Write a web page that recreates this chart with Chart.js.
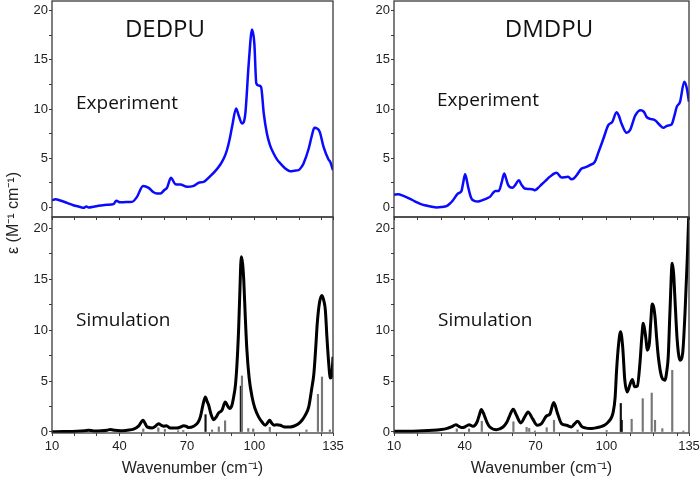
<!DOCTYPE html>
<html>
<head>
<meta charset="utf-8">
<script src="https://cdn.jsdelivr.net/npm/chart.js@4.4.1/dist/chart.umd.min.js"></script>
<style>
  body { margin: 0; background: #fff; width: 700px; height: 480px; overflow: hidden; position: relative; }
  canvas { position: absolute; }
  .lbl { position: absolute; font-family: "Open Sans", sans-serif; color: #111; line-height: 1; white-space: nowrap; }
  .ytitle { position: absolute; left: 12px; top: 213px; font-family: "Liberation Sans", Arial, sans-serif; font-size: 16px; color: #222;
            white-space: nowrap; transform: translate(-50%, -50%) rotate(-90deg); }
</style>
</head>
<body>
<canvas id="expLeft" width="347" height="232" style="left:0;top:0"></canvas>
<canvas id="expRight" width="350" height="232" style="left:350px;top:0"></canvas>
<canvas id="simLeft" width="347" height="275" style="left:0;top:205px"></canvas>
<canvas id="simRight" width="350" height="275" style="left:350px;top:205px"></canvas>

<div class="lbl" style="left:65px;top:16px;width:200px;text-align:center;font-size:24px">DEDPU</div>
<div class="lbl" style="left:449px;top:16px;width:200px;text-align:center;font-size:24px">DMDPU</div>
<div class="lbl" style="left:76px;top:93px;font-size:19px">Experiment</div>
<div class="lbl" style="left:437px;top:90px;font-size:19px">Experiment</div>
<div class="lbl" style="left:76px;top:310px;font-size:19px">Simulation</div>
<div class="lbl" style="left:438px;top:310px;font-size:19px">Simulation</div>
<div class="ytitle">ε (M⁻¹ cm⁻¹)</div>

<script>
// axis ticks
const xTickValues = [10, 20, 30, 40, 50, 60, 70, 80, 90, 100, 110, 120, 130, 135];
const xTickLabels = [10, 40, 70, 100, 135];
const yTickValues = [0, 2.5, 5, 7.5, 10, 12.5, 15, 17.5, 20];
const yTickLabels = [0, 5, 10, 15, 20];

// DEDPU experiment
const dedpuExpX = [10, 11.5, 14, 16.7, 19.5, 22.6, 24, 25.3, 26.3, 28.5, 31.5, 34.5, 37.4, 38.6, 40.4, 43, 45.6, 47.8, 50.5, 53,
  55, 56.7, 58.2, 60, 61.2, 62.9, 64.9, 67.1, 70.1, 73, 75.5, 77.5, 80.4, 82.7, 84.9, 86.5, 87.8, 89, 90.1, 91.9,
  93, 94.5, 96, 97.5, 99, 100, 100.9, 101.9, 103, 104.2, 105.6, 107, 108.6, 110, 111.6, 113.5, 116, 118, 119.7, 121,
  121.9, 124.2, 125.5, 126.7, 128, 129.1, 130.8, 133, 133.8, 135];
const dedpuExpY = [0.71, 0.8, 0.65, 0.44, 0.2, 0.02, -0.07, 0.07, -0.03, 0.05, 0.17, 0.25, 0.31, 0.65, 0.5, 0.52, 0.54, 1.05, 2.17, 1.97,
  1.55, 1.39, 1.39, 1.75, 2.0, 2.99, 2.34, 2.3, 2.07, 2.17, 2.51, 2.58, 3.16, 3.7, 4.35, 5.0, 5.8, 6.9, 8.18, 10.05,
  9.37, 8.52, 9.54, 14.6, 18.1, 16.7, 12.6, 12.4, 12.26, 9.54, 7.5, 6.3, 5.47, 4.9, 4.45, 4.0, 3.67, 3.72, 3.77, 4.1,
  4.45, 5.98, 7.2, 8.08, 8.0, 7.67, 6.15, 4.86, 4.6, 3.77];

// DMDPU experiment
const dmdpuExpX = [10, 11.7, 14, 16.6, 18.8, 20.9, 23, 25.1, 28.2, 30.5, 32.2, 33.6, 35, 37.1, 38.6, 39.4, 40.1, 40.8, 41.4, 42.8,
  44, 45.6, 47.5, 49.2, 50.6, 53, 54.4, 55.6, 56.7, 57.5, 58.4, 60.1, 61.5, 62.9, 64, 65.4, 67.3, 69, 69.7, 71,
  72.5, 74.3, 76, 78.9, 81, 82.5, 83.8, 85.2, 86.3, 87.4, 89.5, 91, 93, 95.1, 96.5, 98, 98.9, 100.8, 102.5, 104.3,
  105.3, 106.4, 108.6, 110, 112.3, 114.5, 115.9, 117, 118.5, 120.6, 122.5, 124.1, 125.8, 127.6, 128.8, 129.8, 131.2, 133, 134, 135];
const dmdpuExpY = [1.26, 1.32, 1.15, 0.88, 0.6, 0.37, 0.2, 0.1, -0.03, 0.03, 0.1, 0.35, 0.71, 1.39, 1.66, 2.6, 3.36, 2.8, 2.07, 0.88,
  0.65, 0.58, 0.72, 0.88, 1.05, 1.66, 1.66, 2.5, 3.43, 2.9, 2.24, 1.97, 2.3, 2.75, 2.3, 1.9, 1.85, 1.8, 1.73, 1.95,
  2.31, 2.7, 3.09, 3.5, 3.02, 3.05, 3.09, 2.85, 2.95, 3.26, 3.94, 4.05, 4.28, 4.62, 5.5, 6.49, 7.1, 8.35, 8.69, 9.68,
  9.3, 8.52, 7.57, 7.84, 9.37, 9.88, 9.71, 9.2, 9.0, 8.86, 8.4, 8.08, 8.3, 8.42, 9.3, 10.22, 10.73, 12.77, 12.19, 10.73];

// DEDPU simulation
const dedpuSimX = [10, 15, 21, 24.5, 26.3, 28.5, 32, 34.5, 36, 38, 40.4, 43.5, 46.3, 48.6, 50.5, 51.5, 52.3, 54.5, 56.2, 57.4,
  58.7, 59.7, 60.9, 62.6, 65.6, 67.3, 68.6, 69.8, 70.8, 73, 75, 76, 77.3, 78.2, 79, 79.7, 80.8, 81.9, 83, 84.1,
  85.6, 87.1, 88, 89, 90, 90.8, 91.6, 92.3, 93, 93.5, 94.2, 94.8, 95.3, 96, 96.7, 97.7, 99, 100.3, 101.9, 103.5,
  104.9, 105.9, 106.8, 107.8, 108.9, 110, 111.6, 113, 114.5, 116, 117.5, 119.5, 121.2, 122.8, 124.2, 125.5, 126.5, 127.3, 128, 129,
  130.1, 130.9, 131.6, 132.3, 133.1, 133.8, 134.3, 134.7, 135];
const dedpuSimY = [0.03, 0.04, 0.07, 0.12, 0.18, 0.1, 0.12, 0.18, 0.24, 0.16, 0.13, 0.18, 0.28, 0.6, 1.15, 0.8, 0.5, 0.4, 0.6, 0.82,
  0.65, 0.56, 0.62, 0.39, 0.39, 0.5, 0.62, 0.55, 0.43, 0.56, 0.95, 1.48, 2.8, 3.44, 3.0, 2.62, 1.7, 1.21, 1.45, 1.87,
  2.13, 2.95, 2.6, 2.3, 2.6, 3.44, 4.6, 6.72, 10, 13.3, 17.2, 16.5, 14.9, 11.2, 8.03, 5.3, 3.44, 2.3, 1.48, 0.95,
  0.66, 0.9, 1.15, 0.85, 0.66, 0.72, 0.66, 0.52, 0.49, 0.5, 0.56, 0.78, 1.15, 1.7, 2.46, 4.2, 5.74, 8.2, 10.66, 12.7,
  13.4, 12.9, 11.97, 9.3, 6.72, 5.3, 5.4, 6.2, 7.38];

// DMDPU simulation
const dmdpuSimX = [10, 18, 26.5, 30, 32.2, 34.3, 36.2, 37.5, 38.6, 40, 41.8, 43.5, 45.2, 46.2, 47, 47.8, 48.5, 49.5, 50.6, 53.4,
  56.2, 57.8, 58.8, 60.5, 61.9, 63.7, 65.4, 66.8, 68.7, 70.7, 72.5, 74.6, 76, 77.7, 79.1, 81, 83.1, 85.2, 86.5, 87.8,
  89.5, 91, 93, 95, 97.2, 99, 100.8, 102.9, 103.7, 104.3, 105.2, 106, 106.9, 107.8, 108.8, 109.9, 111, 112, 113.1, 114.2,
  115, 115.6, 116.3, 116.8, 117.3, 118.2, 118.8, 119.4, 120.1, 120.6, 121.3, 122, 123.4, 124.8, 125.6, 126.2, 126.9, 127.9, 128.5, 129,
  130, 131.2, 132.3, 133.3, 134.3, 135];
const dmdpuSimY = [0.07, 0.08, 0.16, 0.24, 0.33, 0.49, 0.72, 0.55, 0.43, 0.49, 0.72, 0.56, 0.98, 1.7, 2.2, 1.9, 1.48, 0.9, 0.49, 0.23,
  0.49, 0.95, 1.48, 2.23, 1.64, 0.89, 1.48, 1.97, 1.31, 0.66, 0.82, 1.57, 1.74, 2.89, 1.97, 0.82, 0.66, 0.49, 0.8, 1.05,
  0.56, 0.4, 0.33, 0.38, 0.49, 0.65, 0.98, 1.97, 3.4, 6.0, 8.69, 9.84, 8.36, 5.08, 3.93, 4.59, 5.15, 4.43, 4.5, 6.72,
  9.3, 10.66, 9.9, 9.02, 8.03, 8.69, 10.8, 12.56, 12.2, 11.31, 9.2, 7.38, 5.41, 5.08, 6.0, 7.38, 11.64, 16.56, 15.5, 13.28,
  9.02, 7.05, 7.7, 11.64, 17.2, 22];

// computed stick spectra
const dedpuStickX = [50.6, 57.3, 60.2, 66.1, 68.4, 78.3, 81.2, 84.2, 87.0, 94.0, 94.5, 97.3, 99.5, 106.9, 123.2, 128.3, 130.1, 133.6];
const dedpuStickH = [0.3, 0.4, 0.25, 0.12, 0.15, 1.7, 0.2, 0.5, 1.1, 4.5, 5.5, 0.35, 0.3, 0.45, 0.2, 3.7, 5.4, 0.2];
const dedpuStickDark = [78.3, 94.0];
const dmdpuStickX = [36.6, 41.8, 47.2, 60.6, 66.2, 67.3, 69.7, 74.7, 77.8, 87.8, 100.1, 106.1, 106.5, 110.7, 115.4, 119.2, 120.6, 123.7, 127.9, 132.6];
const dmdpuStickH = [0.3, 0.3, 1.05, 1.0, 0.45, 0.35, 0.1, 0.42, 1.15, 0.2, 0.15, 2.8, 1.15, 1.25, 3.27, 3.82, 1.15, 0.33, 6.05, 0.1];
const dmdpuStickDark = [106.1, 106.5];

const axisColor = '#3a3a3a';
const tickFont = { family: '"Liberation Sans", Arial, sans-serif', size: 13 };

const frame = {
  id: 'frame',
  afterDraw(chart) {
    const { ctx, chartArea: a } = chart;
    ctx.save();
    ctx.strokeStyle = axisColor;
    ctx.lineWidth = 1.3;
    ctx.strokeRect(a.left, a.top, a.right - a.left, a.bottom - a.top);
    ctx.restore();
  }
};

function points(xs, ys) {
  return xs.map((x, i) => ({ x: x, y: ys[i] }));
}

function curve(xs, ys, color, width) {
  return {
    type: 'line', data: points(xs, ys), borderColor: color, borderWidth: width,
    pointRadius: 0, tension: 0.4, cubicInterpolationMode: 'monotone', order: 1
  };
}

function sticks(xs, hs, dark) {
  return {
    type: 'bar', data: points(xs, hs), barThickness: 1.5, borderWidth: 0, grouped: false, order: 2,
    backgroundColor: xs.map(x => dark.includes(x) ? '#111' : '#777')
  };
}

function panel(id, o) {
  new Chart(document.getElementById(id), {
    type: 'line',
    data: { datasets: o.datasets },
    options: {
      responsive: false,
      animation: false,
      layout: { padding: o.padding },
      plugins: { legend: { display: false }, tooltip: { enabled: false } },
      scales: {
        x: {
          type: 'linear', min: 10, max: 135, offset: false,
          border: { display: false },
          grid: { drawOnChartArea: false, offset: false, tickLength: 3, color: axisColor, lineWidth: 1 },
          afterBuildTicks: s => { s.ticks = xTickValues.map(v => ({ value: v })); },
          afterFit: s => { s.height = o.xHeight; s.paddingLeft = 0; s.paddingRight = 0; },
          ticks: {
            display: o.xLabels, autoSkip: false, maxRotation: 0, minRotation: 0, padding: 3,
            font: tickFont, color: '#222',
            callback: v => xTickLabels.includes(v) ? String(v) : ''
          },
          title: {
            display: o.xLabels, text: 'Wavenumber (cm⁻¹)', color: '#222',
            font: { family: '"Liberation Sans", Arial, sans-serif', size: 16 },
            padding: { top: 0, bottom: 2 }
          }
        },
        y: {
          min: o.yMin, max: o.yMax,
          border: { display: false },
          grid: { drawOnChartArea: false, tickLength: 3, color: axisColor, lineWidth: 1 },
          afterBuildTicks: s => { s.ticks = yTickValues.map(v => ({ value: v })); },
          afterFit: s => { s.width = o.yWidth; s.paddingTop = 0; s.paddingBottom = 0; },
          ticks: {
            padding: 1, font: tickFont, color: '#222',
            callback: v => yTickLabels.includes(v) ? String(v) : ''
          }
        }
      }
    },
    plugins: [frame]
  });
}

const blue = '#0a0aff';

panel('expLeft', {
  datasets: [curve(dedpuExpX, dedpuExpY, blue, 2.5)],
  padding: { top: 1, right: 14, left: 0, bottom: 0 },
  xHeight: 15, yWidth: 52, yMin: -1, yMax: 21, xLabels: false
});
panel('expRight', {
  datasets: [curve(dmdpuExpX, dmdpuExpY, blue, 2.5)],
  padding: { top: 1, right: 11, left: 0, bottom: 0 },
  xHeight: 15, yWidth: 44, yMin: -1, yMax: 21, xLabels: false
});
panel('simLeft', {
  datasets: [curve(dedpuSimX, dedpuSimY, '#000', 3), sticks(dedpuStickX, dedpuStickH, dedpuStickDark)],
  padding: { top: 12, right: 14, left: 0, bottom: 0 },
  xHeight: 47, yWidth: 52, yMin: -0.1, yMax: 21.1, xLabels: true
});
panel('simRight', {
  datasets: [curve(dmdpuSimX, dmdpuSimY, '#000', 3), sticks(dmdpuStickX, dmdpuStickH, dmdpuStickDark)],
  padding: { top: 12, right: 11, left: 0, bottom: 0 },
  xHeight: 47, yWidth: 44, yMin: -0.1, yMax: 21.1, xLabels: true
});
</script>
</body>
</html>
